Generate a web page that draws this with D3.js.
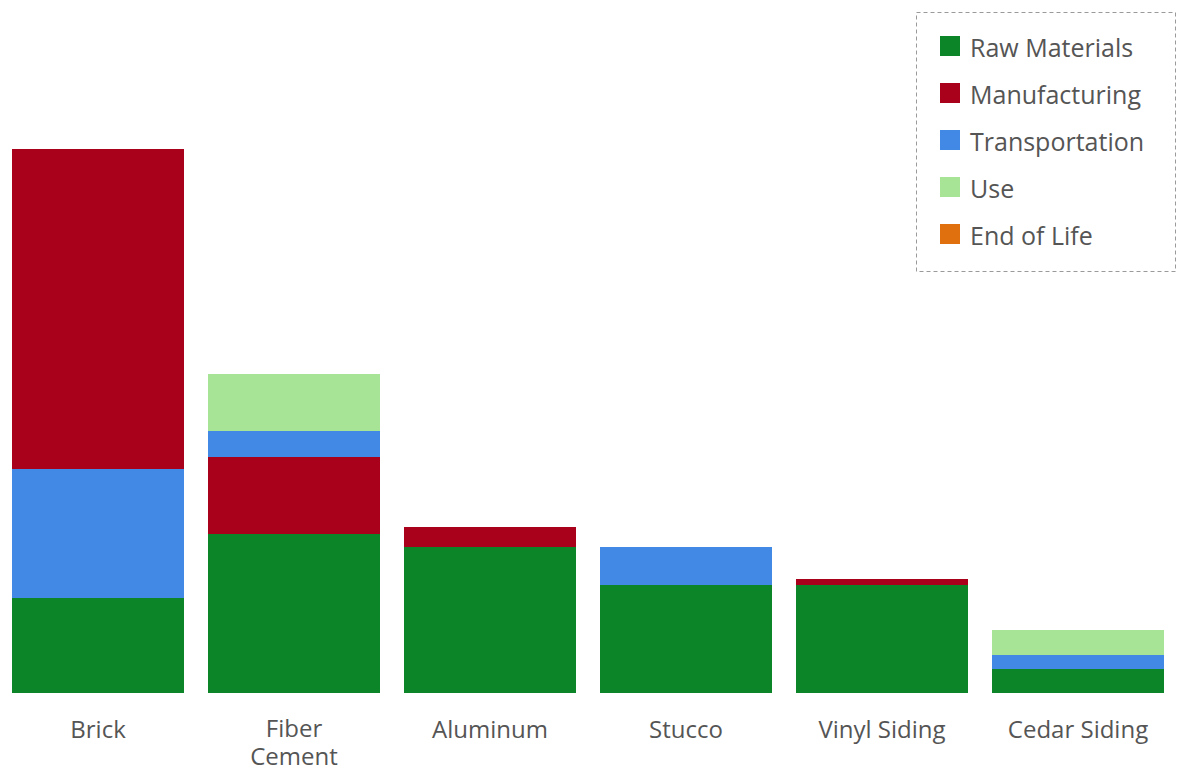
<!DOCTYPE html>
<html><head><meta charset="utf-8">
<script src="https://cdn.jsdelivr.net/npm/d3@7"></script>
<style>body{margin:0;background:#fff}svg text{font-family:"Open Sans",sans-serif;fill:#555}</style>
</head><body><svg id="c" width="1178" height="771"></svg>
<script>
const categories = ["Brick","Fiber Cement","Aluminum","Stucco","Vinyl Siding","Cedar Siding"];
const series = ["Raw Materials","Manufacturing","Transportation","Use","End of Life"];
const rawMaterials   = [95, 159, 146, 108, 108, 24];
const manufacturing  = [320, 77, 20, 0, 6, 0];
const transportation = [129, 26, 0, 38, 0, 14];
const useVals        = [0, 57, 0, 0, 0, 25];
const endOfLife      = [0, 0, 0, 0, 0, 0];
const colors = ["#0b8527","#a9001b","#4289e6","#a8e495","#e0700e"];
// stacking order (bottom to top) as drawn in the source, per category
const stackOrder = [
  ["Raw Materials","Transportation","Manufacturing","Use","End of Life"],
  series, series, series, series, series
];

const svg = d3.select("#c");
const valuesBySeries = {"Raw Materials":rawMaterials,"Manufacturing":manufacturing,"Transportation":transportation,"Use":useVals,"End of Life":endOfLife};
const segs = [];
categories.forEach((c,i)=>{
  let base = 0;
  stackOrder[i].forEach(s=>{
    const v = valuesBySeries[s][i];
    segs.push({cat:c, key:s, y0:base, y1:base+v});
    base += v;
  });
});
const x = d3.scaleBand().domain(categories).range([0,1176]).paddingInner(24/196).paddingOuter(12/196);
const y = d3.scaleLinear().domain([0,600]).range([693,93]);
const color = d3.scaleOrdinal().domain(series).range(colors);

svg.append("g").selectAll("rect").data(segs.filter(d=>d.y1>d.y0)).join("rect")
  .attr("fill",d=>color(d.key))
  .attr("x",d=>x(d.cat)).attr("width",x.bandwidth())
  .attr("y",d=>y(d.y1)).attr("height",d=>y(d.y0)-y(d.y1));

const ax = svg.append("g").attr("transform","translate(0,693)").call(d3.axisBottom(x).tickSize(0).tickPadding(0));
ax.select(".domain").remove();
ax.selectAll(".tick text").text(null).attr("font-size",24).style("fill","#555").attr("font-family","Open Sans").attr("dy",null)
  .each(function(d){
    const t=d3.select(this); const words = d==="Fiber Cement"?["Fiber","Cement"]:[d];
    const top = words.length>1 ? 44 : 45;
    words.forEach((w,i)=>t.append("tspan").attr("x",0).attr("y",top+i*28).text(w));
  });

const lg = svg.append("g");
lg.append("rect").attr("x",916.5).attr("y",12.5).attr("width",259).attr("height",259)
  .attr("fill","#fff").attr("stroke","#9a9a9a").attr("stroke-dasharray","4,3");
series.forEach((s,i)=>{
  const base = 57 + i*47;
  lg.append("rect").attr("x",940).attr("y",base-21).attr("width",20).attr("height",20).attr("fill",color(s));
  lg.append("text").attr("x",970).attr("y",base).attr("font-size",25).text(s);
});
</script></body></html>
